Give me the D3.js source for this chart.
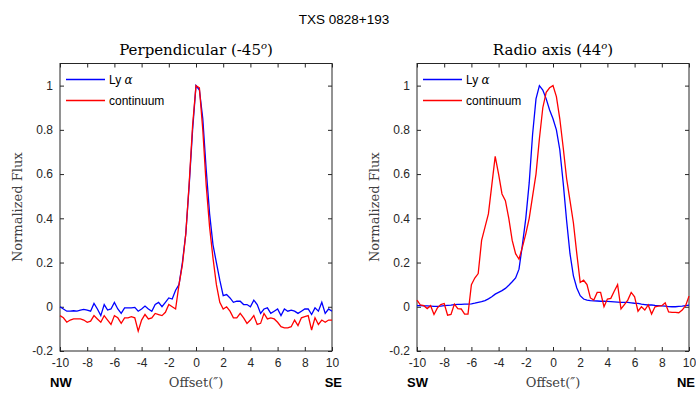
<!DOCTYPE html>
<html>
<head>
<meta charset="utf-8">
<script src="https://cdn.jsdelivr.net/npm/d3@7"></script>
<style>
  body { margin: 0; background: #fff; }
</style>
</head>
<body>
<div id="chart"></div>
<script>
// offsets in arcsec, step 0.25
const offsets = d3.range(-10, 10.001, 0.25);

const perpLya = [0.00, -0.01, -0.02, -0.02, -0.018, -0.02, -0.015, -0.012, -0.015, -0.02,
  0.015, -0.01, -0.04, 0.01, -0.015, -0.01, 0.02, -0.01, -0.03, -0.005,
  -0.005, -0.005, -0.003, -0.02, -0.01, 0.003, -0.01, -0.02, 0.01, 0.02,
  0.0, 0.02, 0.04, 0.035, 0.075, 0.1, 0.2, 0.33, 0.55, 0.8,
  1.0, 0.98, 0.85, 0.62, 0.42, 0.28, 0.2, 0.12, 0.05, 0.055,
  0.04, 0.02, 0.025, 0.025, 0.01, 0.01, 0.0, 0.03, 0.01, -0.03,
  -0.01, -0.005, -0.03, -0.02, -0.01, -0.04, -0.01, -0.02, -0.015, -0.02,
  -0.03, -0.02, -0.01, -0.01, -0.035, -0.005, -0.02, 0.02, -0.03, -0.01, -0.02];

const perpCont = [-0.04, -0.05, -0.07, -0.06, -0.055, -0.055, -0.055, -0.06, -0.07, -0.065,
  -0.04, -0.055, -0.07, -0.04, -0.06, -0.08, -0.04, -0.05, -0.075, -0.05,
  -0.05, -0.045, -0.05, -0.11, -0.06, -0.035, -0.055, -0.05, -0.03, -0.035,
  -0.04, -0.025, 0.01, 0.0, -0.01, 0.1, 0.19, 0.33, 0.56, 0.82,
  1.0, 0.99, 0.8, 0.55, 0.36, 0.22, 0.1, 0.02, -0.01, 0.0,
  -0.02, -0.05, -0.05, -0.03, -0.05, -0.075, -0.06, -0.04, -0.08, -0.075,
  -0.03, -0.055, -0.05, -0.055, -0.07, -0.09, -0.095, -0.095, -0.09, -0.06,
  -0.085, -0.05, -0.045, -0.04, -0.105, -0.05, -0.08, -0.06, -0.07, -0.06, -0.06];

const radioLya = [0.005, 0.005, 0.004, 0.004, 0.003, 0.002, 0.002, 0.003, 0.005, 0.006,
  0.007, 0.01, 0.011, 0.011, 0.012, 0.012, 0.013, 0.016, 0.02, 0.023,
  0.028, 0.036, 0.045, 0.057, 0.065, 0.073, 0.083, 0.097, 0.113, 0.13,
  0.17, 0.28, 0.4, 0.56, 0.78, 0.94, 1.0, 0.98, 0.94, 0.89,
  0.85, 0.8, 0.71, 0.56, 0.39, 0.24, 0.14, 0.085, 0.05, 0.035,
  0.03, 0.028, 0.027, 0.026, 0.025, 0.025, 0.024, 0.023, 0.022, 0.021,
  0.02, 0.02, 0.02, 0.018, 0.016, 0.015, 0.012, 0.01, 0.008, 0.008,
  0.006, 0.005, 0.004, 0.003, 0.001, 0.0, 0.0, 0.002, 0.003, 0.005, 0.007];

const radioCont = [0.03, 0.008, 0.005, -0.008, 0.005, -0.035, -0.005, 0.01, 0.015, -0.038,
  -0.035, 0.012, -0.008, -0.01, -0.033, -0.033, 0.1, 0.13, 0.15, 0.3,
  0.36, 0.42, 0.55, 0.68, 0.6, 0.51, 0.48, 0.4, 0.3, 0.24,
  0.215, 0.27, 0.33, 0.4, 0.5, 0.6, 0.76, 0.9, 0.97, 0.99,
  1.0, 0.95, 0.85, 0.72, 0.58, 0.48, 0.38, 0.24, 0.11, 0.12,
  0.1, 0.04, 0.03, 0.065, 0.065, 0.0, 0.035, 0.038, 0.07, 0.1,
  -0.01, 0.01, 0.03, 0.065, 0.045, -0.02, 0.0, -0.015, 0.008, -0.033,
  0.0, 0.003, 0.005, 0.018, -0.023, -0.025, -0.025, -0.027, -0.015, 0.005, 0.048];

const xTicks = d3.range(-10, 10.001, 2);
const yTicks = [-0.2, 0, 0.2, 0.4, 0.6, 0.8, 1];

const panels = [
  { left: 60, title: 'Perpendicular (-45', lya: perpLya, cont: perpCont, dirs: ['NW', 'SE'] },
  { left: 417, title: 'Radio axis (44', lya: radioLya, cont: radioCont, dirs: ['SW', 'NE'] }
];

const width = 696, height = 394;
const pw = 272, plotTop = 63.5, ph = 287.5;
const sans = "'Liberation Sans', Arial, Helvetica, sans-serif";
const serif = "'DejaVu Serif', 'Liberation Serif', serif";
const fmt = d => String(+d.toFixed(1));

const svg = d3.select('#chart').append('svg')
  .attr('width', width)
  .attr('height', height);

svg.append('text')
  .attr('x', 344).attr('y', 24)
  .attr('text-anchor', 'middle')
  .style('font-family', sans)
  .style('font-size', '13.5px')
  .style('fill', '#000')
  .text('TXS 0828+193');

panels.forEach(p => {
  const x = d3.scaleLinear().domain([-10, 10]).range([0, pw]);
  const y = d3.scaleLinear().domain([-0.2, 1.1]).range([ph, 0]);

  const g = svg.append('g').attr('transform', `translate(${p.left}, ${plotTop})`);

  // inward ticks on all sides
  const axes = [
    [d3.axisBottom(x).tickValues(xTicks).tickFormat(fmt).tickSizeInner(-4).tickSizeOuter(0).tickPadding(7), `translate(0, ${ph})`, true],
    [d3.axisTop(x).tickValues(xTicks).tickSizeInner(-4).tickSizeOuter(0), 'translate(0, 0)', false],
    [d3.axisLeft(y).tickValues(yTicks).tickFormat(fmt).tickSizeInner(-4).tickSizeOuter(0).tickPadding(7), 'translate(0, 0)', true],
    [d3.axisRight(y).tickValues(yTicks).tickSizeInner(-4).tickSizeOuter(0), `translate(${pw}, 0)`, false]
  ];
  axes.forEach(([ax, tr, labels]) => {
    const a = g.append('g').attr('transform', tr).call(ax);
    a.select('.domain').remove();
    a.selectAll('line').attr('stroke', '#262626');
    a.selectAll('text')
      .style('font-family', sans)
      .style('font-size', '12px')
      .attr('fill', '#262626');
    if (!labels) a.selectAll('text').remove();
  });

  g.append('rect')
    .attr('width', pw).attr('height', ph)
    .attr('fill', 'none')
    .attr('stroke', '#262626')
    .attr('stroke-width', 1);

  const line = d3.line()
    .x((d, i) => x(offsets[i]))
    .y(d => y(d));

  g.append('path').datum(p.lya)
    .attr('d', line)
    .attr('fill', 'none')
    .attr('stroke', '#0000ff')
    .attr('stroke-width', 1.3);

  g.append('path').datum(p.cont)
    .attr('d', line)
    .attr('fill', 'none')
    .attr('stroke', '#ff0000')
    .attr('stroke-width', 1.3);

  // legend
  const legend = [['Ly ', '#0000ff', 16], ['continuum', '#ff0000', 37]];
  legend.forEach(([name, col, ly], i) => {
    g.append('line')
      .attr('x1', 6).attr('x2', 45)
      .attr('y1', ly).attr('y2', ly)
      .attr('stroke', col).attr('stroke-width', 1.3);
    const t = g.append('text')
      .attr('x', 49).attr('y', ly + 4)
      .style('font-family', sans)
      .style('font-size', '12px')
      .style('fill', '#000')
      .text(name);
    if (i === 0) {
      t.append('tspan').style('font-family', serif).style('font-style', 'italic').text('α');
    }
  });

  // subplot title
  const tt = svg.append('text')
    .attr('x', p.left + pw / 2).attr('y', 55)
    .attr('text-anchor', 'middle')
    .style('font-family', serif)
    .style('font-size', '15px')
    .style('fill', '#000')
    .text(p.title);
  tt.append('tspan').attr('dy', -6).style('font-size', '10px').style('font-style', 'italic').text('o');
  tt.append('tspan').attr('dy', 6).text(')');

  // y label
  svg.append('text')
    .attr('transform', `translate(${p.left - 38}, ${plotTop + ph / 2}) rotate(-90)`)
    .attr('text-anchor', 'middle')
    .style('font-family', serif)
    .style('font-size', '13px')
    .style('fill', '#404040')
    .text('Normalized Flux');

  // x label
  const xl = svg.append('text')
    .attr('x', p.left + pw / 2).attr('y', 387)
    .attr('text-anchor', 'middle')
    .style('font-family', serif)
    .style('font-size', '13px')
    .style('fill', '#404040');
  xl.append('tspan').text('Offset(');
  xl.append('tspan').style('font-style', 'italic').text('″');
  xl.append('tspan').text(')');

  svg.append('text')
    .attr('x', p.left - 10).attr('y', 387)
    .style('font-family', sans)
    .style('font-size', '13px')
    .style('font-weight', 'bold')
    .style('fill', '#000')
    .text(p.dirs[0]);
  svg.append('text')
    .attr('x', Math.min(p.left + pw + 10, width - 1)).attr('y', 387)
    .attr('text-anchor', 'end')
    .style('font-family', sans)
    .style('font-size', '13px')
    .style('font-weight', 'bold')
    .style('fill', '#000')
    .text(p.dirs[1]);
});
</script>
</body>
</html>
